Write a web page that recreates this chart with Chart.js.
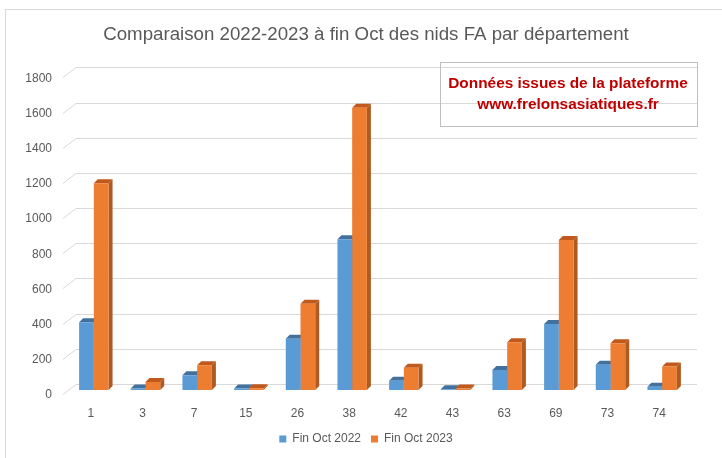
<!DOCTYPE html>
<html>
<head>
<meta charset="utf-8">
<script src="https://cdn.jsdelivr.net/npm/chart.js@4"></script>
<style>
  html, body { margin: 0; padding: 0; background: #fff; }
  #wrap { width: 722px; height: 458px; position: relative; }
</style>
</head>
<body>
<div id="wrap"><canvas id="nidsChart"></canvas></div>
<script>
// Départements et nombre de nids FA à fin octobre
const departements = ['1', '3', '7', '15', '26', '38', '42', '43', '63', '69', '73', '74'];
const finOct2022 = [385, 8, 84, 8, 291, 857, 53, 4, 114, 375, 143, 19];
const finOct2023 = [1175, 45, 141, 10, 491, 1605, 127, 8, 272, 853, 266, 133];
const yTicks = [0, 200, 400, 600, 800, 1000, 1200, 1400, 1600, 1800];

const titre = 'Comparaison 2022-2023 à fin Oct des nids FA par département';
const note = ['Données issues de la plateforme', 'www.frelonsasiatiques.fr'];

const grey = '#595959';
const gridColor = '#d9d9d9';
// faces: front, top, side
const blueFaces = ['#5b9bd5', '#41719c', '#3d6d9a'];
const orangeFaces = ['#ed7d31', '#c0591b', '#ae5a21'];

// Fake 3D: back wall gridlines + top/side faces of the bars
const plot3d = {
  id: 'plot3d',
  beforeDraw(chart) {
    const ctx = chart.ctx;
    ctx.save();
    ctx.strokeStyle = '#d9d9d9';
    ctx.lineWidth = 1;
    ctx.strokeRect(5.5, 9.5, 740, 470);
    ctx.restore();
  },
  beforeDatasetsDraw(chart) {
    const ctx = chart.ctx;
    const y = chart.scales.y;
    ctx.save();
    ctx.strokeStyle = gridColor;
    ctx.lineWidth = 1;
    yTicks.forEach(v => {
      const py = Math.round(y.getPixelForValue(v)) + 0.5;
      ctx.beginPath();
      ctx.moveTo(63, py + 4);
      ctx.lineTo(76, py - 6);
      ctx.lineTo(697, py - 6);
      ctx.stroke();
    });

    const dx = 4, dy = 4;
    chart.data.datasets.forEach((ds, i) => {
      const faces = i === 0 ? blueFaces : orangeFaces;
      chart.getDatasetMeta(i).data.forEach(bar => {
        const p = bar.getProps(['x', 'y', 'base', 'width'], true);
        const l = p.x - p.width / 2, r = p.x + p.width / 2;
        ctx.fillStyle = faces[1];
        ctx.beginPath();
        ctx.moveTo(l, p.y);
        ctx.lineTo(l + dx, p.y - dy);
        ctx.lineTo(r + dx, p.y - dy);
        ctx.lineTo(r, p.y);
        ctx.closePath();
        ctx.fill();
        ctx.fillStyle = faces[2];
        ctx.beginPath();
        ctx.moveTo(r, p.y);
        ctx.lineTo(r + dx, p.y - dy);
        ctx.lineTo(r + dx, p.base - dy);
        ctx.lineTo(r, p.base);
        ctx.closePath();
        ctx.fill();
      });
    });
    ctx.restore();
  },
  afterDraw(chart) {
    const ctx = chart.ctx;
    ctx.save();
    ctx.strokeStyle = '#bfbfbf';
    ctx.lineWidth = 1;
    ctx.strokeRect(440.5, 62.5, 257, 64);
    ctx.fillStyle = '#c00000';
    ctx.font = 'bold 15.4px "Liberation Sans", Arial, sans-serif';
    ctx.textAlign = 'center';
    ctx.textBaseline = 'middle';
    ctx.fillText(note[0], 568, 84);
    ctx.fillText(note[1], 568, 105);
    ctx.restore();
  }
};

new Chart(document.getElementById('nidsChart'), {
  type: 'bar',
  data: {
    labels: departements,
    datasets: [
      { label: 'Fin Oct 2022', data: finOct2022, backgroundColor: blueFaces[0] },
      { label: 'Fin Oct 2023', data: finOct2023, backgroundColor: orangeFaces[0] }
    ]
  },
  options: {
    responsive: true,
    maintainAspectRatio: false,
    animation: false,
    datasets: { bar: { categoryPercentage: 0.57, barPercentage: 1.0 } },
    layout: { padding: { left: 10, right: 0, top: 0, bottom: 3 } },
    font: { family: '"Liberation Sans", Arial, sans-serif' },
    scales: {
      x: {
        grid: { display: false, drawTicks: false },
        border: { display: false },
        ticks: { color: grey, font: { size: 12 }, padding: 16, labelOffset: -3 },
        afterFit(scale) { scale.height = 33; }
      },
      y: {
        min: 0,
        max: 1800,
        grid: { display: false, drawTicks: false },
        border: { display: false },
        ticks: {
          stepSize: 200, color: grey, font: { size: 12 }, padding: 16, labelOffset: 5,
          callback: v => String(v)
        },
        afterFit(scale) { scale.width = 58; }
      },
      // empty right axis, only reserves the space right of the bars
      yRight: {
        position: 'right',
        min: 0,
        max: 1,
        grid: { display: false, drawTicks: false },
        border: { display: false },
        ticks: { display: false },
        afterFit(scale) { scale.width = 34; }
      }
    },
    plugins: {
      title: {
        display: true,
        text: titre,
        color: grey,
        font: { size: 18.7, weight: 'normal' },
        padding: { top: 24, bottom: 27 }
      },
      legend: {
        position: 'bottom',
        labels: { color: grey, boxWidth: 7, boxHeight: 7, font: { size: 12 }, padding: 10 }
      },
      tooltip: { enabled: false }
    }
  },
  plugins: [plot3d]
});
</script>
</body>
</html>
